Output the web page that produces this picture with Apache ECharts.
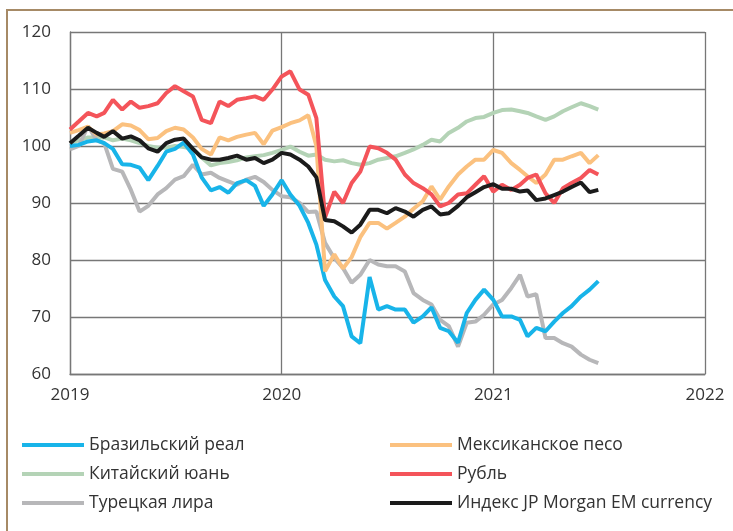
<!DOCTYPE html>
<html>
<head>
<meta charset="utf-8">
<script src="https://cdn.jsdelivr.net/npm/echarts@6/dist/echarts.min.js"></script>
<style>
  html, body { margin: 0; padding: 0; background: #fff; }
  #chart { width: 733px; height: 531px; }
</style>
</head>
<body>
<div id="chart"></div>
<script>
// semi-monthly observation dates
const dates = [
  '2019-01-01','2019-01-16','2019-02-01','2019-02-16','2019-03-01','2019-03-16','2019-04-01','2019-04-16',
  '2019-05-01','2019-05-16','2019-06-01','2019-06-16','2019-07-01','2019-07-16','2019-08-01','2019-08-16',
  '2019-09-01','2019-09-16','2019-10-01','2019-10-16','2019-11-01','2019-11-16','2019-12-01','2019-12-16',
  '2020-01-01','2020-01-16','2020-02-01','2020-02-16','2020-03-01','2020-03-16','2020-04-01','2020-04-16',
  '2020-05-01','2020-05-16','2020-06-01','2020-06-16','2020-07-01','2020-07-16','2020-08-01','2020-08-16',
  '2020-09-01','2020-09-16','2020-10-01','2020-10-16','2020-11-01','2020-11-16','2020-12-01','2020-12-16',
  '2021-01-01','2021-01-16','2021-02-01','2021-02-16','2021-03-01','2021-03-16','2021-04-01','2021-04-16',
  '2021-05-01','2021-05-16','2021-06-01','2021-06-16','2021-07-01'
];

const brl = [100, 100.2, 100.8, 101, 100.5, 99.5, 96.8, 96.7, 96.2, 94,
  96.5, 99, 99.5, 100.6, 98.5, 94.5, 92.2, 92.8, 91.8, 93.5,
  94, 93, 89.5, 91.5, 94, 91.5, 89.5, 86.5, 82.7, 76.5,
  73.6, 71.9, 66.6, 65.4, 77, 71.3, 71.9, 71.3, 71.3, 69,
  70.1, 71.7, 68.1, 67.5, 65.5, 70.7, 73, 74.8, 73, 70.1,
  70.1, 69.5, 66.6, 68.1, 67.5, 69.2, 70.7, 71.9, 73.6, 74.8, 76.3];

const mxn = [102.3, 102.8, 103.4, 102, 102.2, 102.6, 103.8, 103.6, 102.8, 101.2,
  101.4, 102.6, 103.2, 102.9, 101.5, 99.5, 98.5, 101.5, 101, 101.6,
  102, 102.3, 100.3, 102.7, 103.3, 104, 104.5, 105.4, 100, 78,
  81, 78.5, 80.5, 84, 86.5, 86.5, 85.5, 86.5, 87.6, 89,
  90.3, 92.9, 90.6, 92.9, 95, 96.4, 97.6, 97.6, 99.3, 98.8,
  97, 95.8, 94.7, 93.5, 95, 97.6, 97.6, 98.2, 98.8, 97, 98.4];

const cny = [100.5, 101, 101.5, 101.5, 101.5, 101, 101.3, 101, 100.5, 100,
  99.7, 99.7, 100, 99.8, 99.5, 98, 96.6, 97, 97.2, 97.5,
  98, 98.2, 98.4, 98.8, 99.3, 99.9, 99, 98.3, 98.5, 97.6,
  97.3, 97.5, 97, 96.7, 97, 97.6, 97.9, 98.2, 98.8, 99.4,
  100.2, 101.1, 100.8, 102.3, 103.2, 104.3, 104.9, 105.1, 105.8, 106.3,
  106.4, 106.1, 105.8, 105.2, 104.6, 105.2, 106.1, 106.8, 107.5, 107, 106.4];

const rub = [102.9, 104.3, 105.8, 105.2, 105.8, 108.1, 106.4, 107.8, 106.7, 107,
  107.5, 109.3, 110.5, 109.6, 108.7, 104.6, 104, 107.8, 107, 108.1,
  108.4, 108.7, 108.1, 109.9, 112.2, 113.1, 109.9, 109, 104.9, 87.5,
  92, 90, 93.5, 95.5, 99.9, 99.6, 98.8, 97.6, 95, 93.5,
  92.6, 91.5, 89.4, 90, 91.5, 91.7, 93.2, 94.7, 92, 93.2,
  92.3, 93.2, 94.4, 95, 91.7, 90, 92.6, 93.5, 94.4, 95.8, 95];

const tryl = [99.4, 100, 103.5, 101, 100.5, 96, 95.5, 92.3, 88.5, 89.5,
  91.5, 92.6, 94.1, 94.7, 96.7, 95, 95.3, 94.4, 93.8, 93.2,
  94.1, 94.6, 93.7, 92.3, 91.2, 91, 90, 88.4, 88.5, 83,
  80.3, 78.6, 76, 77.4, 80, 79.2, 78.9, 78.9, 78, 74.2,
  73, 72.2, 69.5, 68.4, 64.8, 69, 69.2, 70.4, 72.2, 73,
  75.1, 77.4, 73.6, 74, 66.3, 66.3, 65.4, 64.8, 63.4, 62.5, 61.9];

const emci = [100.5, 101.8, 103.2, 102.3, 101.6, 102.6, 101.3, 101.7, 101, 99.6,
  99, 100.5, 101.1, 101.3, 99.5, 98, 97.6, 97.6, 97.9, 98.3,
  97.6, 97.9, 97, 97.6, 98.8, 98.5, 97.6, 96.4, 94.5, 87,
  86.8, 85.9, 84.8, 86.2, 88.8, 88.8, 88.2, 89.1, 88.5, 87.6,
  88.8, 89.4, 88, 88.2, 89.5, 91, 91.9, 92.8, 93.3, 92.5,
  92.5, 92, 92.2, 90.5, 90.8, 91.4, 92, 92.8, 93.6, 91.9, 92.3];

const yearTicks = [2019, 2020, 2021, 2022];

const names = {
  brl: 'Бразильский реал',
  mxn: 'Мексиканское песо',
  cny: 'Китайский юань',
  rub: 'Рубль',
  tryl: 'Турецкая лира',
  emci: 'Индекс JP Morgan EM currency'
};

// date string -> fractional year
const toYear = (s) => {
  const [y, m, d] = s.split('-').map(Number);
  const t = Date.UTC(y, m - 1, d);
  const a = Date.UTC(y, 0, 1), b = Date.UTC(y + 1, 0, 1);
  return y + (t - a) / (b - a);
};
const xs = dates.map(toYear);
const pair = (vals) => vals.map((v, i) => [xs[i], v]);

const FONT = '"Open Sans", "Noto Sans", sans-serif';

const mkLine = (name, vals, color) => ({
  name: name,
  type: 'line',
  data: pair(vals),
  showSymbol: false,
  color: color,
  lineStyle: { color: color, width: 4 },
  emphasis: { disabled: true },
  animation: false
});

const chart = echarts.init(document.getElementById('chart'));

const legendBase = {
  orient: 'vertical',
  top: 435,
  padding: 0,
  itemWidth: 62,
  itemHeight: 4,
  itemGap: 9,
  icon: 'rect',
  selectedMode: false,
  textStyle: { fontFamily: FONT, fontSize: 17.5, color: '#333', lineHeight: 20 }
};

chart.setOption({
  animation: false,
  graphic: [{
    type: 'rect',
    shape: { x: 7, y: 10, width: 760, height: 560 },
    style: { fill: 'none', stroke: '#a68a66', lineWidth: 2 },
    silent: true
  }],
  grid: { left: 70, right: 28, top: 32, bottom: 157 },
  xAxis: {
    type: 'value',
    min: yearTicks[0],
    max: yearTicks[yearTicks.length - 1],
    interval: 1,
    axisLine: { show: true, lineStyle: { color: '#777', width: 1.3 } },
    axisTick: { show: false },
    splitLine: { show: true, lineStyle: { color: '#777', width: 1.3 } },
    axisLabel: {
      fontFamily: FONT, fontSize: 17, color: '#333', margin: 13,
      formatter: (v) => String(Math.round(v))
    }
  },
  yAxis: {
    type: 'value',
    min: 60,
    max: 120,
    interval: 10,
    axisLine: { show: true, lineStyle: { color: '#777', width: 1.3 } },
    axisTick: { show: false },
    splitLine: { show: true, lineStyle: { color: '#777', width: 1.3 } },
    axisLabel: { fontFamily: FONT, fontSize: 17, color: '#333', margin: 19 }
  },
  legend: [
    Object.assign({}, legendBase, { left: 22, data: [names.brl, names.cny, names.tryl] }),
    Object.assign({}, legendBase, { left: 390, data: [names.mxn, names.rub, names.emci] })
  ],
  series: [
    mkLine(names.cny, cny, '#b4d3b6'),
    mkLine(names.tryl, tryl, '#b7b7b9'),
    mkLine(names.brl, brl, '#18b4e9'),
    mkLine(names.mxn, mxn, '#fbc17f'),
    mkLine(names.rub, rub, '#f4545a'),
    mkLine(names.emci, emci, '#1b1b1b')
  ]
});
</script>
</body>
</html>
